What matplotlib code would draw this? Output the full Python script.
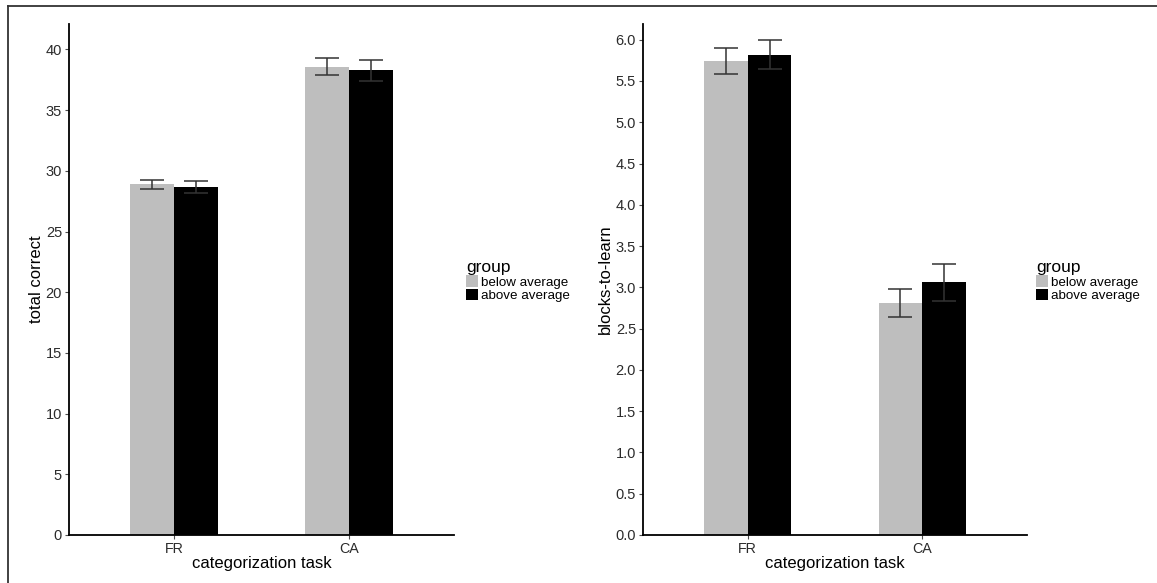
import matplotlib
matplotlib.use("Agg")
import matplotlib.pyplot as plt
from matplotlib.patches import Patch
from matplotlib.lines import Line2D
import numpy as np

plt.rcParams['font.family'] = ['Liberation Sans', 'DejaVu Sans']

tasks = ["FR", "CA"]
groups = ["below average", "above average"]
colors = ["#BEBEBE", "#000000"]

total_correct = {"below average": [28.9, 38.58], "above average": [28.67, 38.27]}
total_err = {"below average": [0.38, 0.70], "above average": [0.49, 0.88]}

blocks = {"below average": [5.74, 2.81], "above average": [5.82, 3.06]}
blocks_err = {"below average": [0.16, 0.17], "above average": [0.18, 0.225]}

W, H = 1157, 583
fig = plt.figure(figsize=(W / 100, H / 100), dpi=100)

def px_axes(x0, x1, ytop, ybot):
    return fig.add_axes([x0 / W, 1 - ybot / H, (x1 - x0) / W, (ybot - ytop) / H])

def draw_panel(ax, vals, errs, ylim, yticks, yticklabels, ylabel, ylab_x):
    x = np.arange(len(tasks)) + 1
    bw = 0.25
    for i, g in enumerate(groups):
        off = (i - 0.5) * bw
        ax.bar(x + off, vals[g], width=bw, color=colors[i], edgecolor='none', zorder=2)
        ax.errorbar(x + off, vals[g], yerr=errs[g], fmt='none', ecolor='#333333',
                    elinewidth=1.1, capsize=8.5, capthick=1.1, zorder=3)
    ax.set_xlim(0.4, 2.6)
    ax.set_ylim(*ylim)
    ax.set_xticks(x)
    ax.set_xticklabels(tasks)
    ax.set_yticks(yticks)
    ax.set_yticklabels(yticklabels)
    for s in ['top', 'right']:
        ax.spines[s].set_visible(False)
    for s in ['left', 'bottom']:
        ax.spines[s].set_linewidth(1.3)
        ax.spines[s].set_color('black')
    ax.tick_params(axis='both', length=3, width=0.8, color='#4d4d4d',
                   labelcolor='#2b2b2b', labelsize=10.5, pad=2)
    ax.tick_params(axis='x', labelsize=10.3)
    ax.set_xlabel("categorization task", fontsize=12, labelpad=0)
    ax.set_ylabel(ylabel, fontsize=12)
    ax.yaxis.set_label_coords(ylab_x, 0.5)
    ax.set_facecolor('white')

ax1 = px_axes(69, 454, 24, 535)
draw_panel(ax1, total_correct, total_err, (0, 42.1),
           [0, 5, 10, 15, 20, 25, 30, 35, 40],
           ["0", "5", "10", "15", "20", "25", "30", "35", "40"],
           "total correct", -0.064)

ax2 = px_axes(643, 1027, 24, 535)
yt = [i * 0.5 for i in range(13)]
draw_panel(ax2, blocks, blocks_err, (0, 6.19), yt,
           ["%.1f" % v for v in yt], "blocks-to-learn", -0.078)

handles = [Patch(facecolor=c, edgecolor='none') for c in colors]
for lx in (466, 1036):
    leg = fig.legend(handles, groups, title="group", loc='upper left',
                     bbox_to_anchor=(lx / W, 1 - 260 / H), frameon=False,
                     fontsize=9.6, title_fontsize=12.5, handlelength=0.9,
                     handleheight=0.95, handletextpad=0.25, labelspacing=0.02,
                     borderpad=0, borderaxespad=0, alignment='left')

# figure frame lines (left and top)
fig.add_artist(Line2D([8 / W, 8 / W], [0, 1 - 6 / H], color='#333333', lw=1.3,
                      transform=fig.transFigure))
fig.add_artist(Line2D([8 / W, 1], [1 - 6 / H, 1 - 6 / H], color='#333333', lw=1.3,
                      transform=fig.transFigure))

fig.savefig("out.png", dpi=100, facecolor='white')
